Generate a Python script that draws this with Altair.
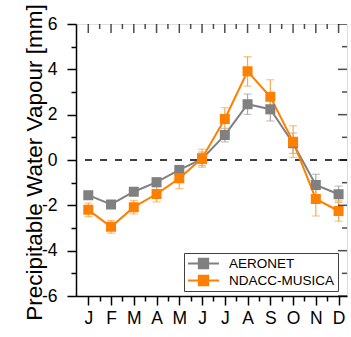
import altair as alt
import pandas as pd

months = ["J", "F", "M", "A", "M", "J", "J", "A", "S", "O", "N", "D"]
month_num = list(range(1, 13))
aeronet = [-1.55, -1.96, -1.40, -0.98, -0.44, 0.05, 1.10, 2.46, 2.24, 0.74, -1.10, -1.51]
aeronet_err = [0.15, 0.10, 0.15, 0.20, 0.20, 0.30, 0.30, 0.45, 0.52, 0.45, 0.47, 0.36]
musica = [-2.20, -2.95, -2.08, -1.50, -0.81, 0.08, 1.81, 3.91, 2.79, 0.81, -1.72, -2.25]
musica_err = [0.30, 0.28, 0.30, 0.35, 0.45, 0.40, 0.50, 0.65, 0.75, 0.70, 0.75, 0.45]
series_names = ["AERONET", "NDACC-MUSICA"]
line_colors = ["#808080", "#FF8000"]
err_colors = ["#A8A8A8", "#FFA64D"]

x_major = [float(m) for m in month_num]
x_minor = [m + 0.5 for m in month_num[:-1]]
y_major = [-6, -4, -2, 0, 2, 4, 6]
y_minor = [-5, -3, -1, 1, 3, 5]

rows = []
for name, vals, errs in [(series_names[0], aeronet, aeronet_err), (series_names[1], musica, musica_err)]:
    for m, v, e in zip(month_num, vals, errs):
        rows.append({"series": name, "m": m, "v": v, "lo": v - e, "hi": v + e})
df = pd.DataFrame(rows)

top_ticks = pd.DataFrame({"pos": x_major + x_minor, "len": [18] * len(x_major) + [10] * len(x_minor)})
right_ticks = pd.DataFrame({"pos": y_major + y_minor, "len": [18] * len(y_major) + [10] * len(y_minor)})
zero_df = pd.DataFrame({"z": [0]})

FONT = "Liberation Sans"
W, H = 271, 272

xscale = alt.Scale(domain=[0.46, 12.37], nice=False, zero=False)
yscale = alt.Scale(domain=[-6, 6], nice=False, zero=False)

month_arr = "[" + ",".join("'" + m + "'" for m in months) + "]"
xaxis = alt.Axis(
    values=x_major + x_minor,
    tickSize={"condition": {"test": "datum.value % 1 == 0", "value": 9}, "value": 5},
    labelExpr=f"datum.value % 1 == 0 ? {month_arr}[datum.value - 1] : ''",
    labelFont=FONT, labelFontSize=17.5, labelColor="black", labelPadding=4,
    tickColor="black", tickWidth=1.5, domainColor="black", domainWidth=1.5,
    grid=False, title=None, labelFlush=False, labelOverlap=False,
)
yaxis = alt.Axis(
    values=y_major + y_minor,
    tickSize={"condition": {"test": "datum.value % 2 == 0", "value": 9}, "value": 5},
    labelExpr="datum.value % 2 == 0 ? '' + datum.value : ''",
    labelFont=FONT, labelFontSize=17.5, labelColor="black", labelPadding=10,
    tickColor="black", tickWidth=1.5, domainColor="black", domainWidth=1.5,
    grid=False, labelFlush=False, labelOverlap=False,
    title="Precipitable Water Vapour [mm]", titleFont=FONT, titleFontSize=22.5,
    titleFontWeight="normal", titleColor="black",
    titleAngle=270, titleAlign="center", titleBaseline="middle",
    titleX=-42, titleY=H / 2 + 2,
)

def X(field):
    return alt.X(field, type="quantitative", scale=xscale, axis=xaxis)

def Y(field):
    return alt.Y(field, type="quantitative", scale=yscale, axis=yaxis)

legend_path = "M-1,0H1M-0.3,-0.3H0.3V0.3H-0.3Z"
leg = alt.Legend(
    title=None, symbolType=legend_path, labelExpr="datum.label + '      '",
    orient="none", legendX=108, legendY=229,
    strokeColor="#404040", fillColor="white", padding=3,
    clipHeight=15, rowPadding=2, symbolSize=961, symbolStrokeWidth=2,
    labelOffset=9, labelFont=FONT, labelFontSize=13.5, labelColor="black",
)

layers = []
zero_line = alt.Chart(zero_df).mark_rule(color="black", strokeWidth=1.5, strokeDash=[7, 8]).encode(
    y=Y("z")
)
layers.append(zero_line)

for i, name in enumerate(series_names):
    base = alt.Chart(df).transform_filter(alt.datum.series == name)
    err_rule = base.mark_rule(color=err_colors[i], strokeWidth=1.2).encode(
        x=X("m"), y=Y("lo"), y2="hi"
    )
    cap_lo = base.mark_tick(color=err_colors[i], thickness=1.2, size=8, orient="horizontal").encode(
        x=X("m"), y=Y("lo")
    )
    cap_hi = base.mark_tick(color=err_colors[i], thickness=1.2, size=8, orient="horizontal").encode(
        x=X("m"), y=Y("hi")
    )
    line = base.mark_line(color=line_colors[i], strokeWidth=2).encode(x=X("m"), y=Y("v"))
    layers += [err_rule, cap_lo, cap_hi, line]

pts = alt.Chart(df).mark_square(size=64, filled=True, strokeWidth=2, opacity=1).encode(
    x=X("m"), y=Y("v"),
    fill=alt.Fill("series:N", scale=alt.Scale(domain=series_names, range=line_colors), legend=leg),
    stroke=alt.Stroke("series:N", scale=alt.Scale(domain=series_names, range=line_colors), legend=leg),
    order=alt.Order("series:N"),
)
layers.append(pts)

top = alt.Chart(top_ticks).mark_tick(color="black", thickness=1.5, orient="vertical", clip=True).encode(
    x=X("pos"), y=alt.value(0), size=alt.Size("len:Q", scale=None, legend=None)
)
right = alt.Chart(right_ticks).mark_tick(color="black", thickness=1.5, orient="horizontal", clip=True).encode(
    y=Y("pos"), x=alt.value(W), size=alt.Size("len:Q", scale=None, legend=None)
)
layers += [top, right]

chart = alt.layer(*layers).properties(
    width=W, height=H,
    autosize=alt.AutoSizeParams(type="none"),
    padding={"left": 76, "top": 24, "right": 4, "bottom": 41},
).configure_view(
    stroke="black", strokeWidth=1.5
).configure(background="white")

chart.save("out.html", embed_options={"renderer": "svg", "actions": False})
